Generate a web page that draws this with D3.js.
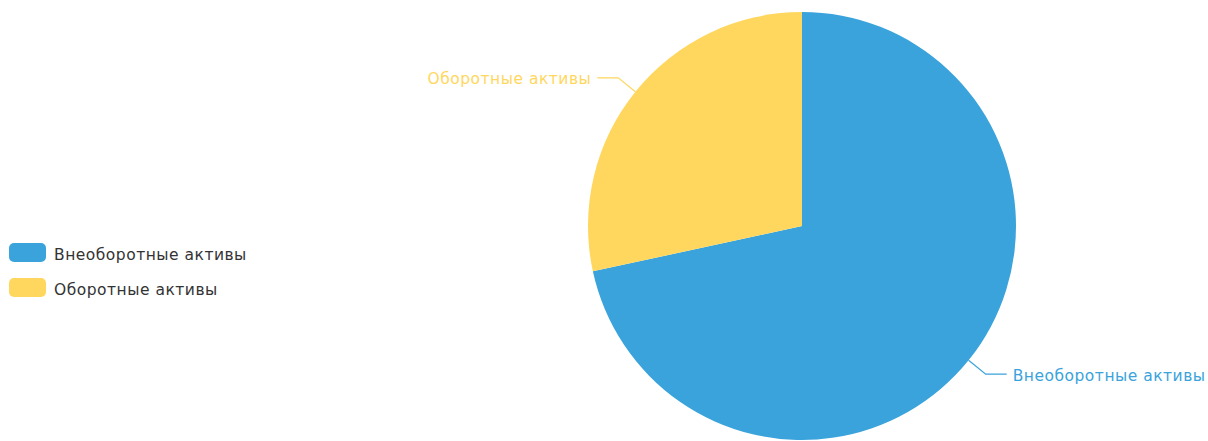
<!DOCTYPE html>
<html>
<head>
<meta charset="utf-8">
<script src="https://cdn.jsdelivr.net/npm/d3@7/dist/d3.min.js"></script>
<style>
  html, body { margin: 0; padding: 0; background: #fff; }
  svg { display: block; }
  text { font-family: "DejaVu Sans", "Open Sans", sans-serif; letter-spacing: 0.5px; }
</style>
</head>
<body>
<svg id="chart" width="1208" height="441"></svg>
<script>
// Balance sheet structure: non-current vs current assets (share, %)
const categories = ["Внеоборотные активы", "Оборотные активы"];
const values = [71.6, 28.4];
const colors = ["#3aa3db", "#ffd75e"];

const svg = d3.select("#chart");
const cx = 802, cy = 226, R = 214;

const data = categories.map((c, i) => ({ name: c, value: values[i], color: colors[i] }));

const pie = d3.pie().sort(null).value(d => d.value);
const arcs = pie(data);
const arc = d3.arc().innerRadius(0).outerRadius(R);

const g = svg.append("g").attr("transform", `translate(${cx},${cy})`);

g.selectAll("path.slice")
  .data(arcs)
  .enter().append("path")
  .attr("class", "slice")
  .attr("d", arc)
  .attr("fill", d => d.data.color);

// Leader lines and outside labels
const len1 = 22, len2 = 21;
arcs.forEach(a => {
  const mid = (a.startAngle + a.endAngle) / 2;
  const sx = Math.sin(mid), sy = -Math.cos(mid);
  const p0 = [sx * R, sy * R];
  const p1 = [sx * (R + len1), sy * (R + len1)];
  const dir = sx >= 0 ? 1 : -1;
  const p2 = [p1[0] + dir * len2, p1[1]];
  g.append("polyline")
    .attr("points", [p0, p1, p2].map(p => p.join(",")).join(" "))
    .attr("fill", "none")
    .attr("stroke", a.data.color)
    .attr("stroke-width", 1.2);
  g.append("text")
    .attr("x", p2[0] + dir * 6)
    .attr("y", p2[1] + 1)
    .attr("dy", "0.36em")
    .attr("text-anchor", dir > 0 ? "start" : "end")
    .attr("fill", a.data.color)
    .style("font-size", "15.5px")
    .text(a.data.name);
});

// Legend
const legend = svg.append("g").attr("transform", "translate(9,243)");
data.forEach((d, i) => {
  const row = legend.append("g").attr("transform", `translate(0,${i * 35})`);
  row.append("rect")
    .attr("width", 37).attr("height", 19)
    .attr("rx", 5).attr("ry", 5)
    .attr("fill", d.color);
  row.append("text")
    .attr("x", 45).attr("y", 11)
    .attr("dy", "0.36em")
    .attr("fill", "#333")
    .style("font-size", "15.5px")
    .text(d.name);
});
</script>
</body>
</html>
